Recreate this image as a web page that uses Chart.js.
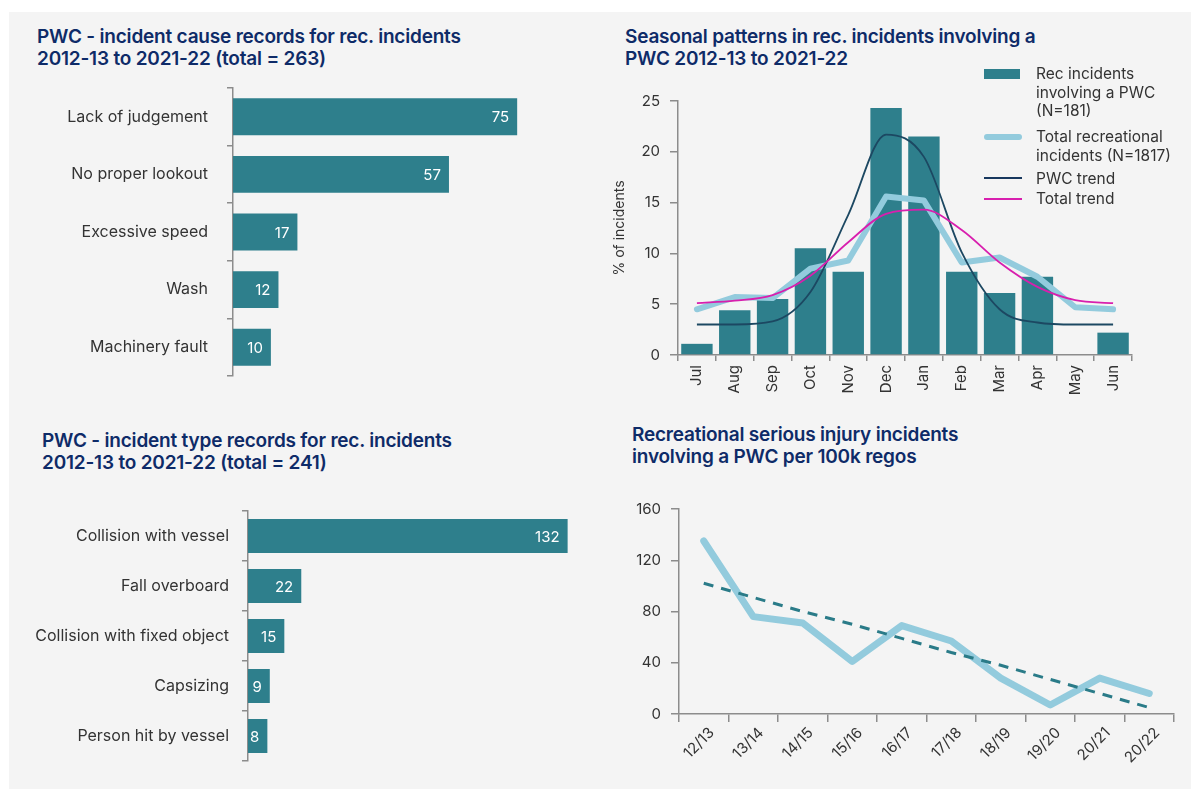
<!DOCTYPE html>
<html>
<head>
<meta charset="utf-8">
<title>PWC incidents</title>
<script src="https://cdn.jsdelivr.net/npm/chart.js@4.4.0/dist/chart.umd.min.js"></script>
<style>
    body { margin: 0; background: #ffffff; font-family: Inter, Roboto, sans-serif; }
    .panel { position: absolute; left: 9px; top: 12px; width: 1182px; height: 777px; background: #f4f4f4; }
    canvas { position: absolute; }
    .title { position: absolute; color: #0e2b68; font-size: 19px; font-weight: 600; line-height: 22px; white-space: nowrap; letter-spacing: -0.2px; }
    .legend-text { position: absolute; left: 1036px; color: #333333; font-size: 15.5px; line-height: 18.5px; white-space: nowrap; }
    .swatch { position: absolute; left: 984px; }
</style>
</head>
<body>
<div class="panel"></div>

<div class="title" style="left:37px; top:26px;">PWC - incident cause records for rec. incidents<br>2012-13 to 2021-22 (total = 263)</div>
<div class="title" style="left:625px; top:26px;">Seasonal patterns in rec. incidents involving a<br>PWC 2012-13 to 2021-22</div>
<div class="title" style="left:42px; top:430px;">PWC - incident type records for rec. incidents<br>2012-13 to 2021-22 (total = 241)</div>
<div class="title" style="left:632px; top:424px;">Recreational serious injury incidents<br>involving a PWC per 100k regos</div>

<canvas id="causeChart" width="570" height="304" style="left:20px; top:80px;"></canvas>
<canvas id="seasonChart" width="545" height="315" style="left:605px; top:90px;"></canvas>
<canvas id="typeChart" width="580" height="266" style="left:20px; top:503px;"></canvas>
<canvas id="injuryChart" width="580" height="279" style="left:605px; top:495px;"></canvas>

<div id="seasonLegend"></div>

<script>
// Incident causes (top left)
const causeLabels = ['Lack of judgement', 'No proper lookout', 'Excessive speed', 'Wash', 'Machinery fault'];
const causeValues = [75, 57, 17, 12, 10];

// Incident types (bottom left)
const typeLabels = ['Collision with vessel', 'Fall overboard', 'Collision with fixed object', 'Capsizing', 'Person hit by vessel'];
const typeValues = [132, 22, 15, 9, 8];

// Seasonal pattern, % of incidents by month (top right)
const months = ['Jul', 'Aug', 'Sep', 'Oct', 'Nov', 'Dec', 'Jan', 'Feb', 'Mar', 'Apr', 'May', 'Jun'];
const pwcShare = [1.1, 4.4, 5.5, 10.5, 8.2, 24.3, 21.5, 8.2, 6.1, 7.7, 0, 2.2];
const totalShare = [4.5, 5.7, 5.6, 8.5, 9.3, 15.6, 15.2, 9.1, 9.6, 7.7, 4.7, 4.5];
const pwcTrend = [3.0, 3.0, 3.3, 6.2, 13.8, 21.7, 19.5, 10.1, 4.5, 3.2, 3.0, 3.0];
const totalTrend = [5.1, 5.35, 5.9, 7.8, 11.1, 13.9, 14.3, 12.3, 9.1, 6.7, 5.4, 5.1];
const seasonLegend = [
    ['Rec incidents', 'involving a PWC', '(N=181)'],
    ['Total recreational', 'incidents (N=1817)'],
    ['PWC trend'],
    ['Total trend']
];

// Serious injury rate per 100k regos (bottom right)
const seasons = ['12/13', '13/14', '14/15', '15/16', '16/17', '17/18', '18/19', '19/20', '20/21', '20/22'];
const injuryRate = [135, 76, 71, 41, 69, 57, 28, 7, 28, 16];
const injuryTrend = [102, 91, 80, 70, 59, 48, 38, 27, 16, 5];

const TEAL = '#2e7f8c';
const LIGHT_BLUE = '#93cbdd';
const NAVY = '#1c4862';
const MAGENTA = '#d81fae';
const AXIS_GREY = '#8c8c8c';
const TEXT = '#333333';
const FONT = 'Inter';

// white value labels at the inner end of each bar
const barValueLabels = {
    id: 'barValueLabels',
    afterDatasetsDraw(chart) {
        const ctx = chart.ctx;
        const values = chart.data.datasets[0].data;
        ctx.save();
        ctx.fillStyle = '#ffffff';
        ctx.font = '15px ' + FONT;
        ctx.textAlign = 'right';
        ctx.textBaseline = 'middle';
        chart.getDatasetMeta(0).data.forEach((bar, i) => {
            ctx.fillText(values[i], bar.x - 8, bar.y + 1);
        });
        ctx.restore();
    }
};

// fixed axis size, and no extra label padding so the layout padding alone sets the plot area
function fixWidth(width) {
    return s => {
        s.width = width;
        s.paddingTop = 0;
        s.paddingBottom = 0;
    };
}

function fixHeight(height) {
    return s => {
        s.height = height;
        s.paddingLeft = 0;
        s.paddingRight = 0;
    };
}

function categoryAxis(width, padding) {
    return {
        grid: { drawOnChartArea: false, drawTicks: true, tickLength: 6, color: AXIS_GREY, lineWidth: 1.5, offset: true },
        border: { color: AXIS_GREY, width: 1.5 },
        ticks: { color: TEXT, font: { family: FONT, size: 16 }, padding: padding },
        afterFit: fixWidth(width)
    };
}

function createBarChart(id, labels, values, max, axisWidth, labelPadding, padding, barPct) {
    const ctx = document.getElementById(id).getContext('2d');
    return new Chart(ctx, {
        type: 'bar',
        data: {
            labels: labels,
            datasets: [{
                data: values,
                backgroundColor: TEAL,
                barPercentage: barPct,
                categoryPercentage: 1
            }]
        },
        options: {
            indexAxis: 'y',
            responsive: false,
            maintainAspectRatio: false,
            animation: false,
            layout: { padding: padding },
            plugins: { legend: { display: false }, tooltip: { enabled: false } },
            scales: {
                x: { display: false, min: 0, max: max },
                y: categoryAxis(axisWidth, labelPadding)
            }
        },
        plugins: [barValueLabels]
    });
}

function createSeasonChart() {
    const ctx = document.getElementById('seasonChart').getContext('2d');
    return new Chart(ctx, {
        type: 'bar',
        data: {
            labels: months,
            datasets: [
                {
                    type: 'bar',
                    label: seasonLegend[0].join(' '),
                    data: pwcShare,
                    backgroundColor: TEAL,
                    barPercentage: 0.83,
                    categoryPercentage: 1,
                    order: 4
                },
                {
                    type: 'line',
                    label: seasonLegend[1].join(' '),
                    data: totalShare,
                    borderColor: LIGHT_BLUE,
                    borderWidth: 6,
                    borderJoinStyle: 'round',
                    borderCapStyle: 'round',
                    pointRadius: 0,
                    tension: 0,
                    order: 3
                },
                {
                    type: 'line',
                    label: seasonLegend[2].join(' '),
                    data: pwcTrend,
                    borderColor: NAVY,
                    borderWidth: 1.8,
                    pointRadius: 0,
                    cubicInterpolationMode: 'monotone',
                    order: 2
                },
                {
                    type: 'line',
                    label: seasonLegend[3].join(' '),
                    data: totalTrend,
                    borderColor: MAGENTA,
                    borderWidth: 1.8,
                    pointRadius: 0,
                    cubicInterpolationMode: 'monotone',
                    order: 1
                }
            ]
        },
        options: {
            responsive: false,
            maintainAspectRatio: false,
            animation: false,
            layout: { padding: { top: 11, right: 18, left: 0, bottom: 0 } },
            plugins: { legend: { display: false }, tooltip: { enabled: false } },
            scales: {
                x: {
                    offset: true,
                    grid: { drawOnChartArea: false, drawTicks: true, tickLength: 6, color: AXIS_GREY, lineWidth: 1.5, offset: true },
                    border: { color: AXIS_GREY, width: 1.5 },
                    ticks: { color: TEXT, font: { family: FONT, size: 15 }, padding: 4, minRotation: 90, maxRotation: 90 },
                    afterFit: fixHeight(50)
                },
                y: {
                    min: 0,
                    max: 25,
                    grid: { drawOnChartArea: false, drawTicks: true, tickLength: 8, color: AXIS_GREY, lineWidth: 1.5 },
                    border: { color: AXIS_GREY, width: 1.5 },
                    ticks: { stepSize: 5, color: TEXT, font: { family: FONT, size: 15 }, padding: 10 },
                    title: { display: true, text: '% of incidents', color: TEXT, font: { family: FONT, size: 14 }, padding: { top: 6 } },
                    afterFit: fixWidth(73)
                }
            }
        }
    });
}

function createInjuryChart() {
    const ctx = document.getElementById('injuryChart').getContext('2d');
    return new Chart(ctx, {
        type: 'line',
        data: {
            labels: seasons,
            datasets: [
                {
                    label: 'Serious injury incidents per 100k regos',
                    data: injuryRate,
                    borderColor: LIGHT_BLUE,
                    borderWidth: 7,
                    borderJoinStyle: 'round',
                    borderCapStyle: 'round',
                    pointRadius: 0,
                    order: 2
                },
                {
                    label: 'Trend',
                    data: injuryTrend,
                    borderColor: '#2a7b88',
                    borderWidth: 3,
                    borderDash: [10, 8],
                    pointRadius: 0,
                    order: 1
                }
            ]
        },
        options: {
            responsive: false,
            maintainAspectRatio: false,
            animation: false,
            layout: { padding: { top: 14, right: 11, left: 0, bottom: 0 } },
            plugins: { legend: { display: false }, tooltip: { enabled: false } },
            scales: {
                x: {
                    offset: true,
                    grid: { drawOnChartArea: false, drawTicks: true, tickLength: 8, color: AXIS_GREY, lineWidth: 1.5, offset: true },
                    border: { color: AXIS_GREY, width: 1.5 },
                    ticks: { color: TEXT, font: { family: FONT, size: 15 }, padding: 2, labelOffset: 8, minRotation: 45, maxRotation: 45 },
                    afterFit: fixHeight(60)
                },
                y: {
                    min: 0,
                    max: 160,
                    grid: { drawOnChartArea: false, drawTicks: true, tickLength: 8, color: AXIS_GREY, lineWidth: 1.5 },
                    border: { color: AXIS_GREY, width: 1.5 },
                    ticks: { stepSize: 40, color: TEXT, font: { family: FONT, size: 15 }, padding: 10 },
                    afterFit: fixWidth(74)
                }
            }
        }
    });
}

// HTML legend for the seasonal chart, placed top right like the original
function buildSeasonLegend() {
    const box = document.getElementById('seasonLegend');
    const swatches = [
        '<div class="swatch" style="top:69px; width:36px; height:10px; background:' + TEAL + ';"></div>',
        '<div class="swatch" style="top:134px; width:38px; height:6px; border-radius:3px; background:' + LIGHT_BLUE + ';"></div>',
        '<div class="swatch" style="top:177px; width:38px; height:2px; background:#17375e;"></div>',
        '<div class="swatch" style="top:198px; width:38px; height:2px; background:' + MAGENTA + ';"></div>'
    ];
    const tops = [65, 128, 170, 190];
    let html = '';
    seasonLegend.forEach((lines, i) => {
        html += swatches[i];
        html += `<div class="legend-text" style="top:${tops[i]}px;">${lines.join('<br>')}</div>`;
    });
    box.innerHTML = html;
}

document.addEventListener('DOMContentLoaded', () => {
    createBarChart('causeChart', causeLabels, causeValues, 90, 213, 19, { top: 8, bottom: 8, right: 16, left: 0 }, 0.64);
    createBarChart('typeChart', typeLabels, typeValues, 140, 228, 13, { top: 8, bottom: 8, right: 13, left: 0 }, 0.68);
    createSeasonChart();
    createInjuryChart();
    buildSeasonLegend();
});
</script>
</body>
</html>
